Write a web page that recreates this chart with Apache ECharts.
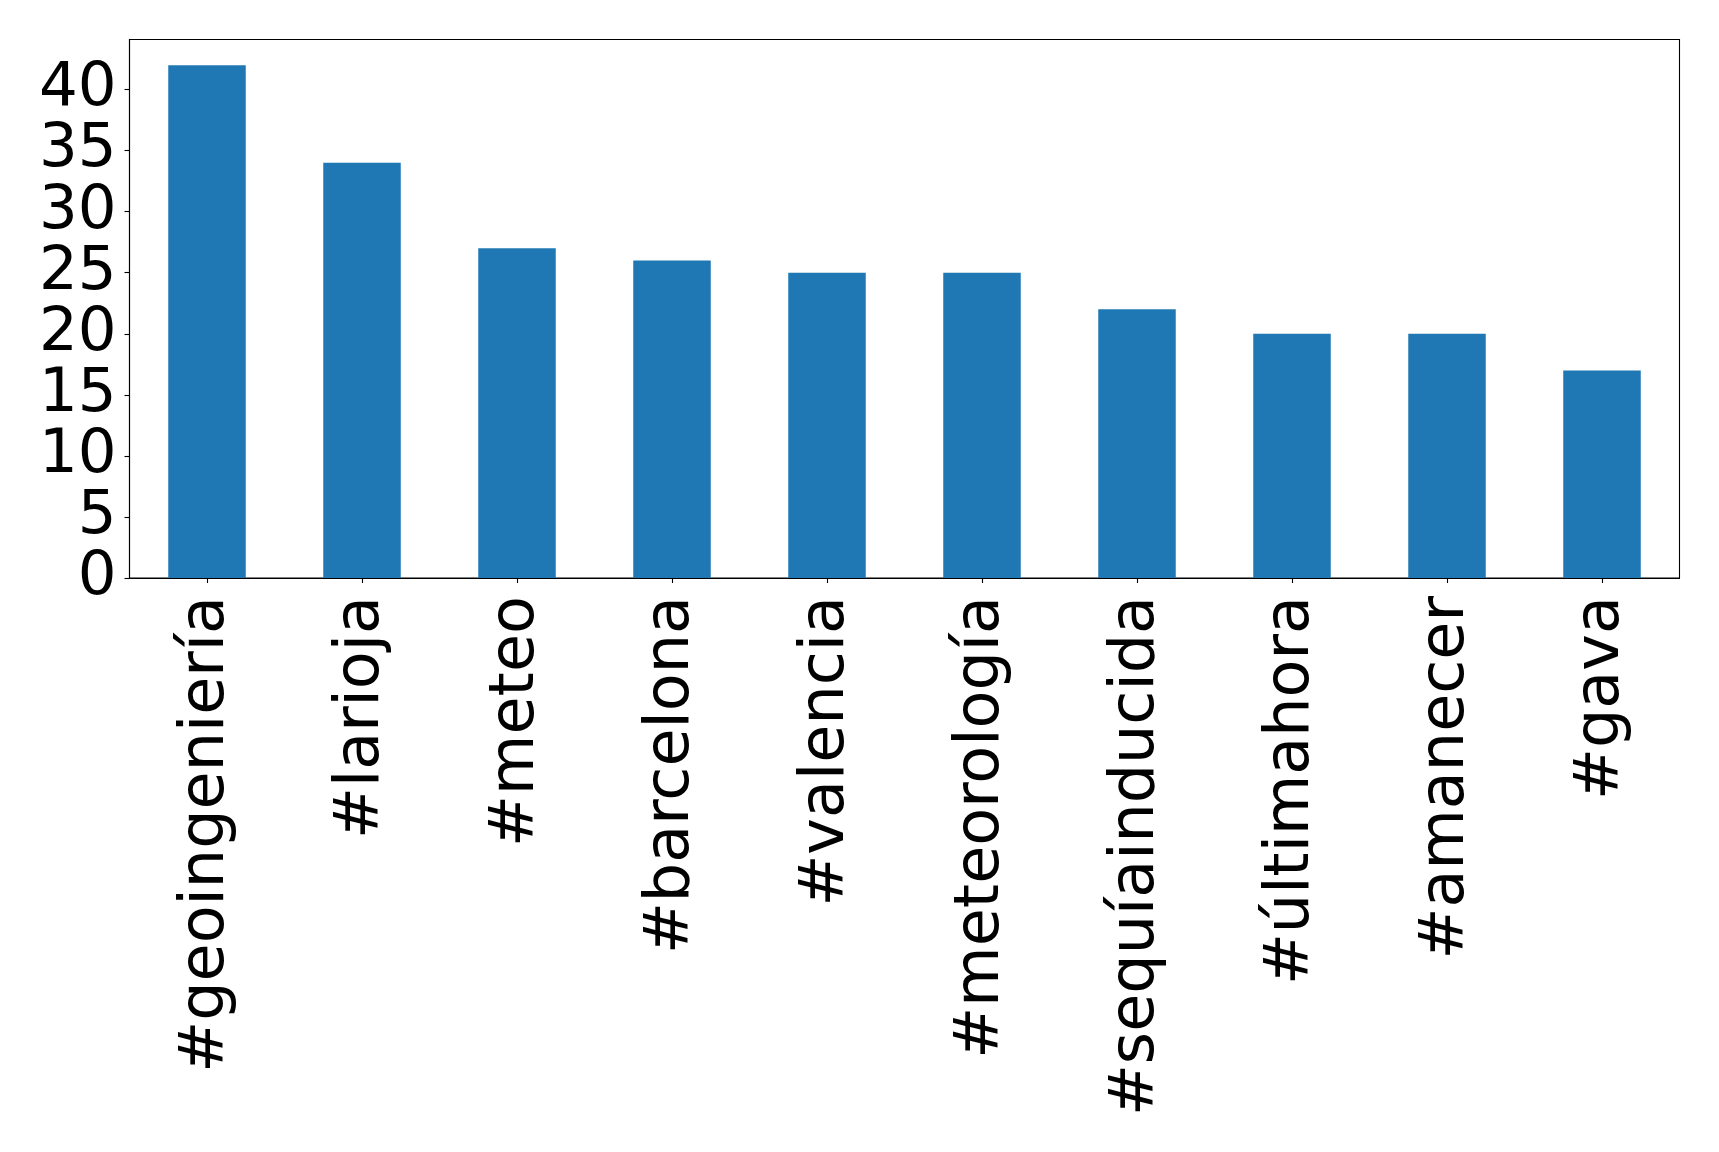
<!DOCTYPE html>
<html><head><meta charset="utf-8">
<script src="https://cdn.jsdelivr.net/npm/echarts@6/dist/echarts.min.js"></script>
<style>html,body{margin:0;padding:0;background:#fff}#c{width:1719px;height:1152px}</style>
</head><body><div id="c"></div>
<script>
const categories = ["#geoingeniería","#larioja","#meteo","#barcelona","#valencia","#meteorología","#sequíainducida","#últimahora","#amanecer","#gava"];
const values = [42,34,27,26,25,25,22,20,20,17];
const yTicks = [0,5,10,15,20,25,30,35,40];
const chart = echarts.init(document.getElementById('c'), null, {renderer:'canvas'});
const font = "DejaVu Sans";
chart.setOption({
  animation:false,
  backgroundColor:'#fff',
  grid:{left:129.5,top:39.5,right:39.5,bottom:574,show:true,borderColor:'#000',borderWidth:1.1,backgroundColor:'transparent'},
  xAxis:{type:'category',data:categories,boundaryGap:true,
    axisLine:{show:true,lineStyle:{color:'#000',width:1.1}},
    axisTick:{show:true,alignWithLabel:true,length:5,lineStyle:{color:'#000',width:1.1}},
    axisLabel:{interval:0,rotate:90,margin:18,fontSize:62,fontFamily:font,color:'#000',padding:[8,0,0,0]},
    splitLine:{show:false}},
  yAxis:{type:'value',min:0,max:44.1,interval:5,
    axisLine:{show:true,lineStyle:{color:'#000',width:1.1}},
    axisTick:{show:true,length:5,customValues:yTicks,lineStyle:{color:'#000',width:1.1}},
    axisLabel:{customValues:yTicks,margin:13,fontSize:61,fontFamily:font,color:'#000'},
    splitLine:{show:false}},
  series:[{type:'bar',data:values,barWidth:'50%',itemStyle:{color:'#1f77b4'}}]
});
</script></body></html>
